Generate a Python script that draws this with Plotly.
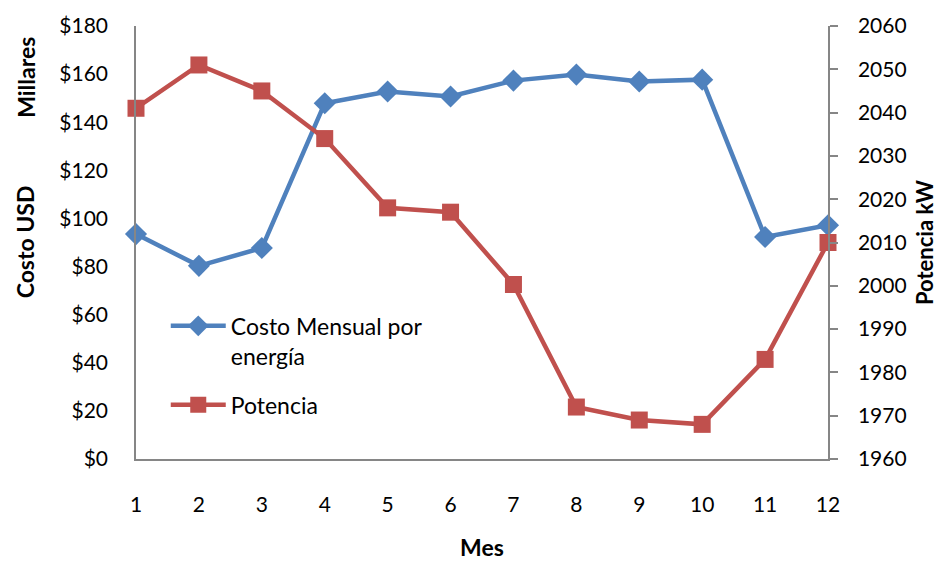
import plotly.graph_objects as go

meses = [1, 2, 3, 4, 5, 6, 7, 8, 9, 10, 11, 12]
costo = [93.5, 80.3, 87.7, 147.9, 152.8, 150.7, 157.3, 159.8, 156.9, 157.7, 92.3, 97.2]
potencia = [2041, 2051, 2045, 2034, 2018, 2017, 2000.3, 1972, 1969, 1968, 1983, 2010]
left_ticks = list(range(0, 181, 20))
left_labels = ["$" + str(v) for v in left_ticks]
right_ticks = list(range(1960, 2061, 10))

FONT = "Lato"
BLUE = "#4F81BD"
RED = "#C0504D"
AX = "#868686"

fig = go.Figure()
fig.add_trace(go.Scatter(
    x=meses, y=costo, name="Costo Mensual por<br>energía", mode="lines+markers",
    legendgroup="a",
    line=dict(color=BLUE, width=4.5),
    marker=dict(symbol="diamond", size=17, color=BLUE), cliponaxis=False))
fig.add_trace(go.Scatter(
    x=meses, y=potencia, name="Potencia", mode="lines+markers", yaxis="y2",
    legendgroup="b",
    line=dict(color=RED, width=4.5),
    marker=dict(symbol="square", size=17, color=RED), cliponaxis=False))

fig.update_layout(
    width=940, height=562,
    margin=dict(l=136, r=112, t=22, b=103),
    paper_bgcolor="white", plot_bgcolor="white",
    font=dict(family=FONT, size=21, color="black"),
    showlegend=True,
    legend=dict(x=0.043, y=0.357, xanchor="left", yanchor="top", valign="top",
                bgcolor="rgba(0,0,0,0)", font=dict(family=FONT, size=23),
                itemwidth=55, tracegroupgap=16),
    xaxis=dict(range=[1, 12], tickvals=meses, showgrid=False, zeroline=False,
               showline=True, linecolor=AX, linewidth=1.5, ticks="",
               ticklabelstandoff=26),
    yaxis=dict(range=[0, 180], tickvals=left_ticks, ticktext=left_labels,
               showgrid=False, zeroline=False, showline=True, linecolor=AX,
               linewidth=1.5, ticks="", ticklabelstandoff=22),
    yaxis2=dict(range=[1960, 2060], tickvals=right_ticks, overlaying="y",
                side="right", showgrid=False, zeroline=False, showline=True,
                linecolor=AX, linewidth=1.5, ticks="outside", ticklen=8,
                tickcolor=AX, tickwidth=1.5, ticklabelstandoff=16),
)

title_font = dict(family=FONT, size=23, color="black", weight="bold")
fig.add_annotation(text="Millares", xref="paper", yref="paper", x=-0.160, y=0.881,
                   textangle=-90, showarrow=False, font=title_font, xanchor="center", yanchor="middle")
fig.add_annotation(text="Costo USD", xref="paper", yref="paper", x=-0.160, y=0.501,
                   textangle=-90, showarrow=False, font=title_font, xanchor="center", yanchor="middle")
fig.add_annotation(text="Potencia kW", xref="paper", yref="paper", x=1.1387, y=0.501,
                   textangle=-90, showarrow=False, font=dict(family=FONT, size=22, color="black", weight="bold"),
                   xanchor="center", yanchor="middle")
fig.add_annotation(text="Mes", xref="paper", yref="paper", x=0.5, y=-0.2037,
                   showarrow=False, font=title_font, xanchor="center", yanchor="middle")

fig.write_html("out.html", config={"displayModeBar": False},
               post_script="document.body.style.margin='0';document.body.style.overflow='hidden';")
